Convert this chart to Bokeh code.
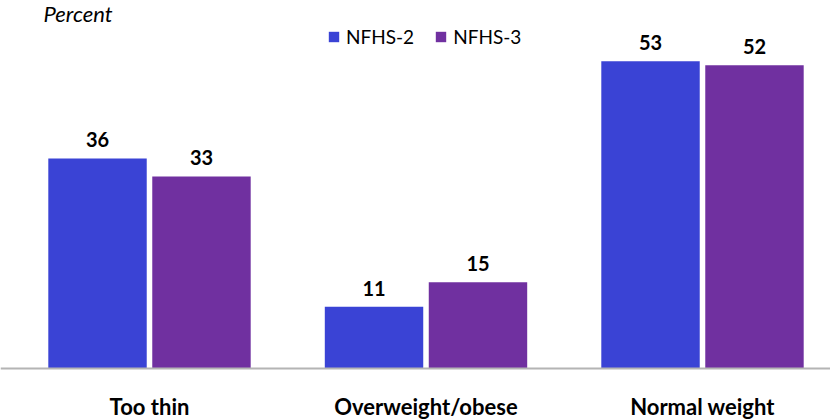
from bokeh.plotting import figure
from bokeh.models import ColumnDataSource, Range1d, Span, Label, Legend, LegendItem
from bokeh.transform import dodge
from bokeh.core.properties import value
from bokeh.embed import file_html
from bokeh.resources import INLINE

categories = ["Too thin", "Overweight/obese", "Normal weight"]
series_names = ["NFHS-2", "NFHS-3"]
nfhs2 = [36.1, 10.6, 52.8]
nfhs3 = [33.0, 14.8, 52.1]
colors = ["#3A43D5", "#7030A0"]

FONT = "Lato"
PX_PER_UNIT = 5.82
GROUP_PX = 276.5
FIRST_PX = 149

xs = list(range(len(categories)))
src = ColumnDataSource(dict(
    x=xs,
    cat=categories,
    nfhs2=nfhs2,
    nfhs3=nfhs3,
    lab2=[f"{v:.0f}" for v in nfhs2],
    lab3=[f"{v:.0f}" for v in nfhs3],
    zero=[0] * len(xs),
))

W, H = 830, 419
base_px = 368  # baseline position from figure top
p = figure(width=W, height=H, output_backend="svg", toolbar_location=None,
           x_range=Range1d(-FIRST_PX / GROUP_PX, (W - FIRST_PX) / GROUP_PX),
           y_range=Range1d(-(H - base_px) / PX_PER_UNIT, base_px / PX_PER_UNIT),
           x_axis_location=None, y_axis_location=None,
           min_border_left=0, min_border_right=0, min_border_top=0, min_border_bottom=0)
p.outline_line_color = None
p.grid.visible = False
p.background_fill_color = "white"
p.border_fill_color = "white"

off = 0.188
bw = 0.356
r2 = p.vbar(x=dodge("x", -off, range=p.x_range), top="nfhs2", width=bw, source=src,
            fill_color=colors[0], line_color=None)
r3 = p.vbar(x=dodge("x", off, range=p.x_range), top="nfhs3", width=bw, source=src,
            fill_color=colors[1], line_color=None)

p.add_layout(Span(location=0, dimension="width", line_color="#B4B4B4", line_width=2))

# value labels
for col, lab, o in (("nfhs2", "lab2", -off), ("nfhs3", "lab3", off)):
    p.text(x=dodge("x", o, range=p.x_range), y=col, text=lab, source=src,
           text_font=value(FONT), text_font_style="bold", text_font_size="20px",
           text_align="center", text_baseline="bottom", y_offset=-11, text_color="black")

# category labels
p.text(x="x", y="zero", text="cat", source=src, y_offset=38,
       text_font=value(FONT), text_font_style="bold", text_font_size="22px",
       text_align="center", text_baseline="middle", text_color="black")

p.add_layout(Label(x=43, y=H - 13, x_units="screen", y_units="screen", text="Percent",
                   text_font=FONT, text_font_style="italic", text_font_size="22px",
                   text_baseline="middle", text_align="left", text_color="black"))

legend = Legend(items=[LegendItem(label=series_names[0], renderers=[r2]),
                       LegendItem(label=series_names[1], renderers=[r3])],
                orientation="horizontal", location=(327, H - 48),
                padding=0, margin=0, spacing=20, label_standoff=6,
                glyph_width=13, glyph_height=13, label_height=20,
                border_line_color=None, background_fill_alpha=0,
                label_text_font=FONT, label_text_font_size="19px", label_text_color="black")
p.add_layout(legend, "center")

open("out.html", "w").write(file_html(p, INLINE))
